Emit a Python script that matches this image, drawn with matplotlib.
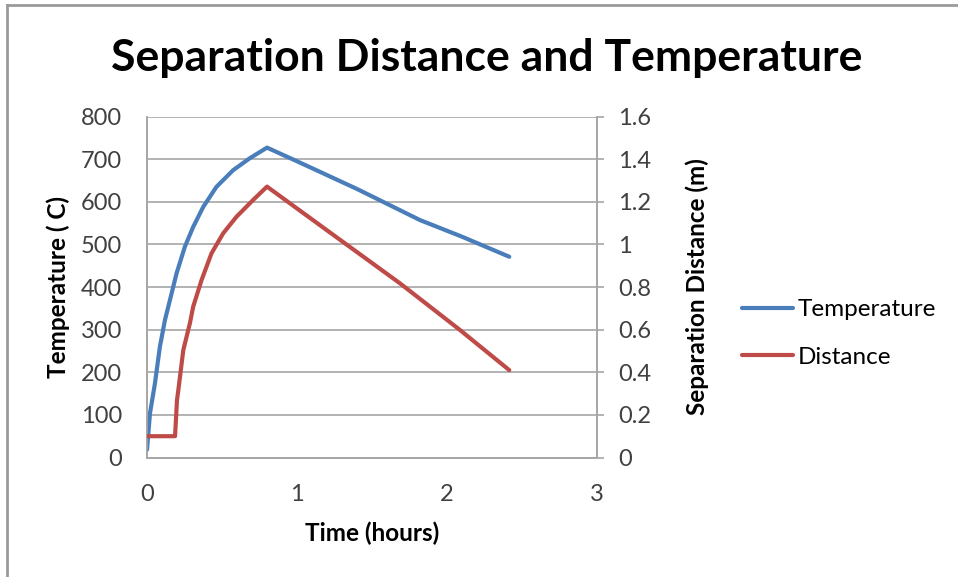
import matplotlib
matplotlib.use("Agg")
import matplotlib.pyplot as plt
from matplotlib.lines import Line2D

# values
time_temp = [0, 0.02, 0.053, 0.086, 0.12, 0.164, 0.197, 0.253, 0.308, 0.375, 0.463, 0.574,
             0.685, 0.8, 1.0, 1.4, 1.82, 2.1, 2.415]
temp = [18, 104, 174, 260, 323, 385, 432, 495, 541, 588, 635, 674,
        702, 727, 695, 630, 557, 518, 471]

time_dist = [0, 0.187, 0.2, 0.209, 0.242, 0.286, 0.308, 0.364, 0.43, 0.508, 0.597, 0.707,
             0.8, 1.2, 1.687, 2.087, 2.415]
dist = [0.1, 0.1, 0.27, 0.317, 0.504, 0.63, 0.708, 0.833, 0.958, 1.052, 1.13, 1.208,
        1.271, 1.066, 0.817, 0.598, 0.41]

x_ticks = [0, 1, 2, 3]
temp_ticks = [0, 100, 200, 300, 400, 500, 600, 700, 800]
dist_ticks = [0, 0.2, 0.4, 0.6, 0.8, 1, 1.2, 1.4, 1.6]
dist_labels = ["0", "0.2", "0.4", "0.6", "0.8", "1", "1.2", "1.4", "1.6"]

BLUE = "#4a7ebb"
RED = "#be4b48"
GRID = "#a6a6a6"
TXT = "#404040"

plt.rcParams["font.family"] = ["Lato", "DejaVu Sans"]

W, H = 958, 577
fig = plt.figure(figsize=(W/100, H/100), dpi=100)
# outer chart frame: only top and left edges show
fig.add_artist(Line2D([7/W, 7/W], [0, 1-5/H], color="#9a9a9a", lw=2, transform=fig.transFigure))
fig.add_artist(Line2D([7/W, 1], [1-5/H, 1-5/H], color="#9a9a9a", lw=2, transform=fig.transFigure))

ax = fig.add_axes([147/W, 1-457.5/H, 450/W, 341/H])
ax2 = ax.twinx()

lw = 3.0
ln1, = ax.plot(time_temp, temp, color=BLUE, lw=lw, solid_capstyle="round", solid_joinstyle="round", zorder=3)
ln2, = ax2.plot(time_dist, dist, color=RED, lw=lw, solid_capstyle="round", solid_joinstyle="round", zorder=3)

ax.set_xlim(0, 3)
ax.set_ylim(0, 800)
ax2.set_ylim(0, 1.6)
ax.set_xticks(x_ticks)
ax.set_yticks(temp_ticks)
ax2.set_yticks(dist_ticks)
ax2.set_yticklabels(dist_labels)

ax.grid(axis="y", color=GRID, linewidth=1.2)
ax.set_axisbelow(True)
for a in (ax, ax2):
    for s in a.spines.values():
        s.set_color(GRID)
        s.set_linewidth(1.2)
    a.spines["top"].set_visible(False)

ax.tick_params(axis="y", length=0, labelsize=17, colors=TXT, pad=18)
ax.tick_params(axis="x", length=0, labelsize=17, colors=TXT, pad=19)
ax2.tick_params(axis="y", direction="out", length=5, width=1.2, color=GRID,
                labelsize=17, labelcolor=TXT, pad=10)

ax.set_xlabel("Time (hours)", fontsize=17.5, fontweight="bold")
ax.set_ylabel("Temperature ( C)", fontsize=17.5, fontweight="bold")
ax2.set_ylabel("Separation Distance (m)", fontsize=17.5, fontweight="bold")
ax.xaxis.set_label_coords(0.5, -0.221)
ax.yaxis.set_label_coords(-0.198, 0.5)
ax2.yaxis.set_label_coords(1.222, 0.5)
ax.xaxis.label.set_va("center")
ax.yaxis.label.set_va("center")
ax2.yaxis.label.set_va("center")

fig.text(487/W, 1-58/H, "Separation Distance and Temperature", ha="center", va="center",
         fontsize=32, fontweight="bold")

fig.legend([ln1, ln2], ["Temperature", "Distance"], loc="center left",
           bbox_to_anchor=(742/W, 1-333.5/H), frameon=False, fontsize=17.5,
           handlelength=2.1, handletextpad=0.2, labelspacing=1.1,
           borderpad=0, borderaxespad=0)

fig.savefig("out.png", dpi=100)
